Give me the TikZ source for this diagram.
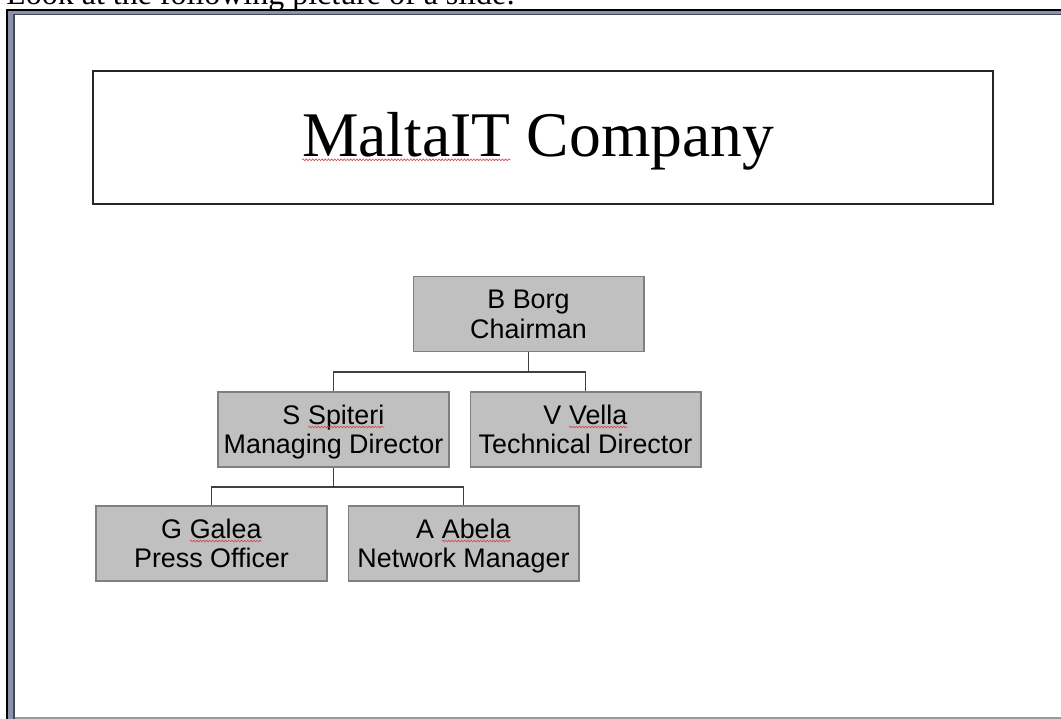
\documentclass[tikz,border=0pt]{standalone}
\usepackage{fontspec}
\setmainfont{Liberation Serif}
\setsansfont{Liberation Sans}
\usepackage{xcolor}
\usepackage{tikz}
\usetikzlibrary{decorations.pathmorphing}
\pgfdeclarelayer{bg}
\pgfsetlayers{bg,main}

\definecolor{framegray}{RGB}{138,146,170}
\definecolor{frameline}{RGB}{70,72,85}
\definecolor{boxgray}{RGB}{192,192,192}
\definecolor{boxedge}{RGB}{128,128,128}
\definecolor{linkgray}{RGB}{64,64,64}
\definecolor{spellred}{RGB}{210,70,80}

\newcommand{\spellmark}[1]{\tikz[baseline=(w.base)]{\node[inner sep=0pt, outer sep=0pt, minimum size=0pt, draw=none, fill=none, anchor=base] (w) {#1};\draw[spellred, line width=0.35pt, decorate, decoration={snake, amplitude=0.5pt, segment length=1.8pt}] ([yshift=-1.6pt]w.base west) -- ([yshift=-1.6pt]w.base east);}}
\newcommand{\topstrut}{\rule{0pt}{14.1pt}}
\newcommand{\lowstrut}{\rule[-3.3pt]{0pt}{3.3pt}}

\tikzset{
	titlebox/.style={draw=black!85, line width=0.8pt, minimum width=18cm, minimum height=2.66cm, inner sep=0pt},
	titletext/.style={font=\fontsize{36.2}{40}\selectfont, inner sep=0pt},
	orgbox/.style={draw=boxedge, fill=boxgray, line width=0.6pt, minimum width=4.62cm, minimum height=1.5cm, inner sep=0pt, align=center, font=\sffamily\fontsize{15.3}{16.8}\selectfont},
	link/.style={draw=linkgray, line width=0.8pt}
}

\begin{document}
\begin{tikzpicture}[x=0.02cm, y=-0.02cm]
			\useasboundingbox (0,0) rectangle (1061,719);
			\node[anchor=base west, inner sep=0pt, font=\fontsize{18.2}{22}\selectfont] (caption) at (6,5) {Look at the following picture of a slide:};
			\node[titlebox] (title) at (543,137.5) {};
			\node[titletext, anchor=base] (titlename) at (538,157) {\spellmark{MaltaIT} Company};%
			\node[orgbox] (borg) at (528.5,314) {\topstrut B Borg\\Chairman\lowstrut};
			\node[orgbox] (spiteri) at (333.5,429.5) {\topstrut S \spellmark{Spiteri}\\Managing Director\lowstrut};
			\node[orgbox] (vella) at (585.5,429.5) {\topstrut V \spellmark{Vella}\\Technical Director\lowstrut};
			\node[orgbox] (galea) at (211.5,543.5) {\topstrut G \spellmark{Galea}\\Press Officer\lowstrut};
			\node[orgbox] (abela) at (463.5,543.5) {\topstrut A \spellmark{Abela}\\Network Manager\lowstrut};
			\coordinate (bus1) at (528.5,372);
			\coordinate (bus2) at (333.5,487);
			\begin{pgfonlayer}{bg}
				% slide frame
				\fill[black] (5.5,9) rectangle (1066,722);
				\fill[framegray] (8,11) rectangle (1066,722);
				\fill[frameline] (13,14) rectangle (1066,722);
				\fill[white] (14.5,15.5) rectangle (1066,717);
				\fill[boxedge!80] (14.5,717) rectangle (1066,719);
				\draw[link] (borg.south) -- (bus1) -| (spiteri.north);
				\draw[link] (bus1) -| (vella.north);
				\draw[link] (spiteri.south) -- (bus2) -| (galea.north);
				\draw[link] (bus2) -| (abela.north);
			\end{pgfonlayer}

		\end{tikzpicture}
\end{document}
